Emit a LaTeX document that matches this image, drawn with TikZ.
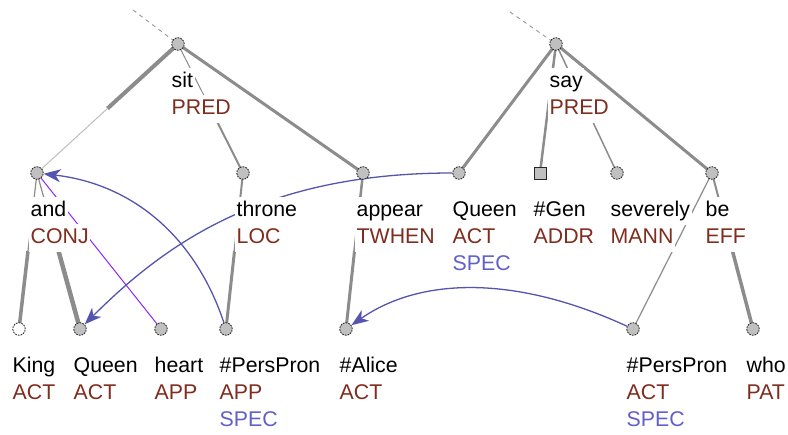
\documentclass[tikz,border=0pt]{standalone}
\usepackage{fontspec}
\setmainfont{Liberation Sans}
\usetikzlibrary{calc,arrows.meta}
\definecolor{functor}{RGB}{128,44,30}
\definecolor{specc}{RGB}{96,96,200}
\definecolor{coref}{RGB}{85,85,175}
\definecolor{edgegray}{RGB}{140,140,140}
\definecolor{lightedge}{RGB}{190,190,190}
\definecolor{violetline}{RGB}{140,40,250}
\definecolor{nodefill}{RGB}{192,192,192}
\pgfdeclarelayer{paper}
\pgfdeclarelayer{edges}
\pgfdeclarelayer{labels}
\pgfsetlayers{paper,edges,labels,main}
\tikzset{
  tnode/.style={circle,minimum size=12.5pt,inner sep=0pt,fill=nodefill,draw=black!85,
    line width=0.8pt,dash pattern=on 1.8pt off 1pt},
  tnodewhite/.style={tnode,fill=white},
  tsquare/.style={rectangle,minimum size=12pt,inner sep=0pt,fill=nodefill,draw=black!85,line width=0.9pt},
  lbl/.style={anchor=base west,fill=white,inner xsep=1.5pt,inner ysep=3.5pt,
    text height=16pt,text depth=4.5pt,font=\fontsize{21.3pt}{25pt}\selectfont},
  wordlbl/.style={lbl,text=black},
  funclbl/.style={lbl,text=functor},
  speclbl/.style={lbl,text=specc},
  e/.style={draw=edgegray,line width=#1,line cap=butt},
  elight/.style={draw=lightedge,line width=#1},
  topdash/.style={draw=black!40,line width=0.9pt,dash pattern=on 4pt off 4pt},
  corefarrow/.style={draw=coref,line width=1.3pt,-{Stealth[length=17pt,width=13pt,inset=5pt]}},
  aux/.style={draw=violetline,line width=1pt}
}
% word + functor lines under a tree node
\newcommand\lblset[3]{%
  \begin{pgfonlayer}{labels}
  \node[wordlbl] (#1-w) at ($(#1)+(-8,44)$) {#2};
  \node[funclbl] (#1-f) at ($(#1)+(-8,71)$) {#3};
  \end{pgfonlayer}}
\newcommand\speclbl[1]{%
  \begin{pgfonlayer}{labels}
  \node[speclbl] (#1-s) at ($(#1)+(-8,98)$) {SPEC};
  \end{pgfonlayer}}
% parent-child edge drawn as two halves with their own widths
\newcommand\halfedge[4]{%
  \begin{pgfonlayer}{edges}
  \draw[#3] (#1.center) -- ($(#1.center)!0.5!(#2.center)$);
  \draw[#4] ($(#1.center)!0.5!(#2.center)$) -- (#2.center);
  \end{pgfonlayer}}
\begin{document}
\begin{tikzpicture}[x=1pt,y=-1pt]
\begin{pgfonlayer}{paper}
\fill[white] (0,0) rectangle (788,435);
\end{pgfonlayer}
\useasboundingbox (0,0) rectangle (788,435);

% tree nodes
\node[tnode] (sit) at (178,44) {};
\node[tnode] (say) at (556,44) {};
\node[tnode] (and) at (37,173) {};
\node[tnode] (throne) at (243,173) {};
\node[tnode] (appear) at (363,173) {};
\node[tnode] (queenT) at (459,173) {};
\node[tsquare] (gen) at (540,173) {};
\node[tnode] (severely) at (617,173) {};
\node[tnode] (be) at (712,173) {};
\node[tnodewhite] (king) at (19,329) {};
\node[tnode] (queen) at (80,329) {};
\node[tnode] (heart) at (161,329) {};
\node[tnode] (pp1) at (226,329) {};
\node[tnode] (alice) at (346,329) {};
\node[tnode] (pp2) at (633,329) {};
\node[tnode] (who) at (753,329) {};

\coordinate (situp) at (133,10);
\coordinate (sayup) at (510,12);

% labels
\lblset{sit}{sit}{PRED}
\lblset{say}{say}{PRED}
\lblset{and}{and}{CONJ}
\lblset{throne}{throne}{LOC}
\lblset{appear}{appear}{TWHEN}
\lblset{queenT}{Queen}{ACT}\speclbl{queenT}
\lblset{gen}{\#Gen}{ADDR}
\lblset{severely}{severely}{MANN}
\lblset{be}{be}{EFF}
\lblset{king}{King}{ACT}
\lblset{queen}{Queen}{ACT}
\lblset{heart}{heart}{APP}
\lblset{pp1}{\#PersPron}{APP}\speclbl{pp1}
\lblset{alice}{\#Alice}{ACT}
\lblset{pp2}{\#PersPron}{ACT}\speclbl{pp2}
\lblset{who}{who}{PAT}

% tree edges
\halfedge{sit}{and}{e=4pt}{elight=1pt}
\halfedge{sit}{throne}{e=1pt}{e=2pt}
\halfedge{sit}{appear}{e=3pt}{e=3pt}
\halfedge{and}{king}{e=1.2pt}{e=3.5pt}
\halfedge{and}{queen}{e=1.2pt}{e=4.5pt}
\halfedge{throne}{pp1}{e=2pt}{e=3pt}
\halfedge{appear}{alice}{e=2.5pt}{e=3pt}
\halfedge{say}{queenT}{e=3pt}{e=3pt}
\halfedge{say}{gen}{e=2.5pt}{e=2.5pt}
\halfedge{say}{severely}{e=1.5pt}{e=1.5pt}
\halfedge{say}{be}{e=3pt}{e=3pt}
\halfedge{be}{pp2}{e=1.2pt}{e=1.2pt}
\halfedge{be}{who}{e=2pt}{e=3.5pt}

\begin{pgfonlayer}{edges}
  \draw[topdash] (situp) -- (sit.center);
  \draw[topdash] (sayup) -- (say.center);
  % auxiliary link
  \draw[aux] (and.center) -- (heart.center);
  % coreference arrows
  \draw[corefarrow] (pp1) .. controls (195,236) and (132,184) .. (and);
  \draw[corefarrow] (queenT) .. controls (269,173) and (170,239) .. (queen);
  \draw[corefarrow] (pp2) .. controls (518,276) and (422,276) .. (alice);
\end{pgfonlayer}
\end{tikzpicture}
\end{document}
